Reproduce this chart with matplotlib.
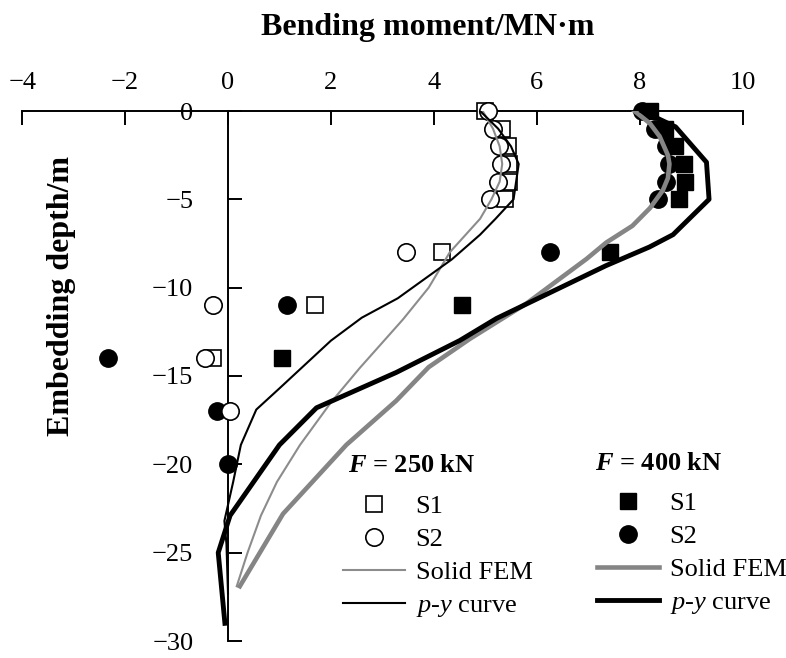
import matplotlib.pyplot as plt
import numpy as np

plt.rcParams['font.family'] = 'Liberation Serif'
plt.rcParams['mathtext.fontset'] = 'custom'
plt.rcParams['mathtext.rm'] = 'Liberation Serif'
plt.rcParams['mathtext.it'] = 'Liberation Serif:italic'
plt.rcParams['mathtext.bf'] = 'Liberation Serif:bold'
plt.rcParams['mathtext.bfit'] = 'Liberation Serif:bold:italic'

# measured bending moment (MN·m) at gauge depths (m)
s1_250_depth = [0, -1, -2, -3, -4, -5, -8, -11, -14]
s1_250_m = [5.0, 5.33, 5.45, 5.47, 5.47, 5.38, 4.15, 1.69, -0.3]
s2_250_depth = [0, -1, -2, -3, -4, -5, -8, -11, -14, -17]
s2_250_m = [5.05, 5.15, 5.26, 5.3, 5.25, 5.09, 3.46, -0.3, -0.45, 0.04]

s1_400_depth = [0, -1, -2, -3, -4, -5, -8, -11, -14]
s1_400_m = [8.2, 8.5, 8.68, 8.87, 8.89, 8.76, 7.43, 4.54, 1.04]
s2_400_depth = [0, -1, -2, -3, -4, -5, -8, -11, -14, -17, -20]
s2_400_m = [8.05, 8.3, 8.52, 8.58, 8.52, 8.35, 6.25, 1.15, -2.34, -0.22, 0.0]

# solid FEM profiles
fem250_depth = [0, -1, -2, -3, -4, -5, -6.1, -8, -10, -11.8, -14.55, -16.5, -18.9, -21, -22.9, -25, -26.9]
fem250_m = [4.95, 5.15, 5.28, 5.33, 5.28, 5.12, 4.9, 4.31, 3.9, 3.4, 2.56, 2.0, 1.4, 0.95, 0.64, 0.38, 0.17]
fem400_depth = [0, -0.7, -1.44, -2.5, -3, -3.8, -4.5, -5.5, -6.5, -7.45, -8.37, -9.6, -10.9, -12.9, -14.5, -16.4, -18.9, -22.8, -26.9]
fem400_m = [7.9, 8.2, 8.39, 8.55, 8.58, 8.55, 8.45, 8.2, 7.86, 7.35, 6.97, 6.4, 5.8, 4.7, 3.9, 3.27, 2.3, 1.07, 0.23]

# p-y curve profiles
py250_depth = [0, -1, -2, -3, -4, -5, -6.1, -7, -8.4, -10.6, -11.7, -13, -15.7, -16.9, -18.9, -21, -23.2, -24.5, -27.3]
py250_m = [4.9, 5.25, 5.5, 5.65, 5.6, 5.55, 5.2, 4.9, 4.35, 3.3, 2.6, 2.0, 1.0, 0.55, 0.25, 0.1, -0.07, -0.03, 0.0]
py400_depth = [0, -0.9, -2.9, -5.0, -7.0, -7.7, -8.75, -11.74, -13, -14.8, -16.8, -18.9, -22.9, -25, -29]
py400_m = [8.05, 8.7, 9.3, 9.35, 8.65, 8.19, 7.35, 5.22, 4.5, 3.27, 1.72, 1.0, 0.04, -0.19, -0.06]

fig = plt.figure(figsize=(7.86, 6.58), dpi=100)
ax = fig.add_axes([22.2 / 786, 17 / 658, 720.3 / 786, 530 / 658])

# markers
h_s1_250, = ax.plot(s1_250_m, s1_250_depth, 's', ms=11, mfc='white', mec='black', mew=1.2,
                    ls='none', zorder=4, clip_on=False, label='S1')
h_s2_250, = ax.plot(s2_250_m, s2_250_depth, 'o', ms=12.5, mfc='white', mec='black', mew=1.2,
                    ls='none', zorder=4, clip_on=False, label='S2')
h_s1_400, = ax.plot(s1_400_m, s1_400_depth, 's', ms=11, mfc='black', mec='black',
                    ls='none', zorder=3, clip_on=False, label='S1')
h_s2_400, = ax.plot(s2_400_m, s2_400_depth, 'o', ms=12.5, mfc='black', mec='black',
                    ls='none', zorder=3, clip_on=False, label='S2')

# lines
h_fem250, = ax.plot(fem250_m, fem250_depth, color='#8c8c8c', lw=1.5, zorder=5, label='Solid FEM')
h_py250, = ax.plot(py250_m, py250_depth, color='black', lw=1.5, zorder=5, label=r'$p$-$y$ curve')
h_fem400, = ax.plot(fem400_m, fem400_depth, color='#858585', lw=3.3, zorder=5, label='Solid FEM')
h_py400, = ax.plot(py400_m, py400_depth, color='black', lw=3.5, zorder=5, label=r'$p$-$y$ curve')

ax.set_xlim(-4, 10)
ax.set_ylim(-30, 0)
ax.set_xticks(np.arange(-4, 11, 2))
ax.set_yticks(np.arange(-30, 1, 5))

ax.spines['bottom'].set_visible(False)
ax.spines['right'].set_visible(False)
ax.spines['left'].set_position(('data', 0))
ax.spines['left'].set_linewidth(1.4)
ax.spines['top'].set_linewidth(1.4)
ax.spines['left'].set_zorder(2.5)

ax.xaxis.set_ticks_position('top')
ax.xaxis.set_label_position('top')
ax.tick_params(axis='x', direction='in', length=10, width=1.4, pad=12, labelsize=19)
ax.tick_params(axis='y', direction='in', length=10, width=1.4, pad=25, labelsize=19)

fig.text(428 / 786, 1 - 27 / 658, 'Bending moment/MN·m', ha='center', va='center',
         fontsize=23, fontweight='bold')
fig.text(62 / 786, 1 - 296 / 658, 'Embedding depth/m', ha='center', va='center',
         rotation=90, fontsize=23, fontweight='bold')

# legend group titles
fig.text(348 / 786, 1 - 466 / 658, r'$\mathbfit{F}$ = 250 kN', ha='left', va='center',
         fontsize=19, fontweight='bold')
fig.text(595 / 786, 1 - 463 / 658, r'$\mathbfit{F}$ = 400 kN', ha='left', va='center',
         fontsize=19, fontweight='bold')

leg_kw = dict(loc='upper left', bbox_transform=fig.transFigure, frameon=False, fontsize=19,
              handlelength=2.35, handletextpad=0.4, labelspacing=0.36,
              borderpad=0, borderaxespad=0, numpoints=1)
leg1 = ax.legend(handles=[h_s1_250, h_s2_250, h_fem250, h_py250],
                 bbox_to_anchor=(343 / 786, 1 - 495 / 658), **leg_kw)
ax.add_artist(leg1)
ax.legend(handles=[h_s1_400, h_s2_400, h_fem400, h_py400],
          bbox_to_anchor=(597 / 786, 1 - 492 / 658), **leg_kw)

fig.savefig('out.png', dpi=100)
